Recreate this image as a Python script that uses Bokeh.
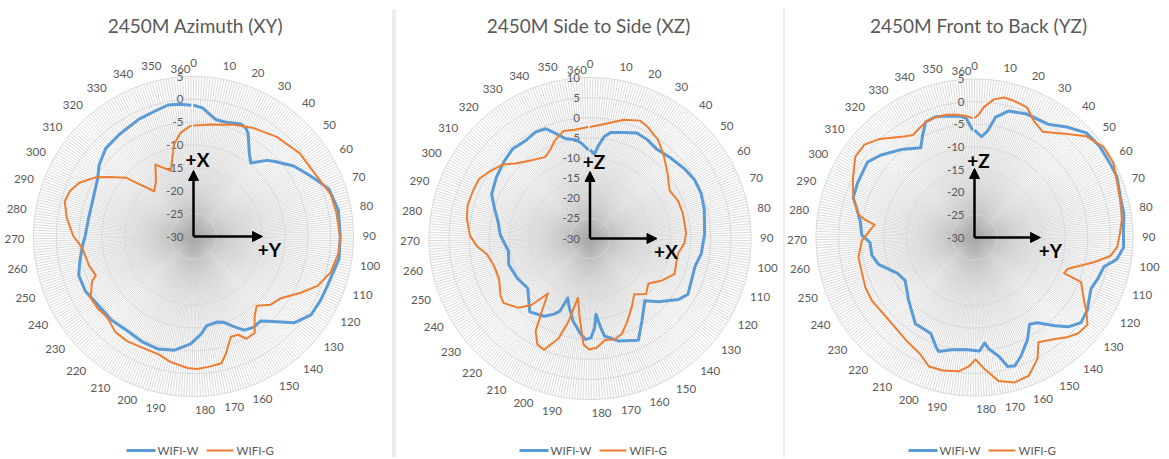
import numpy as np
from bokeh.plotting import figure
from bokeh.models import Range1d, Arrow, NormalHead
from bokeh.core.properties import value
from bokeh.embed import file_html
from bokeh.resources import INLINE

W, H = 1169, 459
FONT = "Lato"
GREY_TXT = "#595959"
BLUE = "#5B9BD5"
ORANGE = "#ED7D31"

# ---------------- measured patterns: angle (deg) / gain (dB) ----------------
# 2450M Azimuth (XY)
xy_w_deg = [0, 4, 11, 16, 23, 26, 28, 34, 38, 44, 47, 55, 61, 67, 71, 80, 90, 99, 111, 117,
            124, 131, 139, 142, 147, 152, 156, 161, 165, 172, 176, 182, 190, 198, 207, 215,
            225, 235, 244, 252, 258, 265, 271, 280, 292, 302, 308, 316, 325, 336, 344, 350, 355]
xy_w_db = [-1.3, -1.8, -4.0, -4.0, -3.3, -3.7, -4.5, -8.1, -9.6, -6.9, -5.9, -3.2, -1.7, 0.1,
           1.4, 2.2, 2.1, 2.2, 1.2, 1.1, 0.9, -1.0, -5.3, -6.4, -6.2, -6.7, -8.3, -10.1, -10.6,
           -10.3, -8.6, -6.5, -4.8, -4.2, -4.4, -4.8, -4.4, -4.3, -3.5, -3.5, -4.5, -5.5, -6.3,
           -6.7, -6.5, -5.5, -4.1, -2.8, -2.4, -1.7, -1.3, -0.7, -0.9]
xy_g_deg = [0, 10, 20, 29, 40, 52, 64, 73, 81, 91, 97, 105, 112, 118, 126, 132, 138, 143, 148,
            153, 156, 160, 165, 168, 174, 179, 183, 191, 197, 206, 213, 220, 227, 234, 240,
            247, 249, 255, 265, 271, 279, 286, 291, 296, 302, 306, 312, 315, 320, 327, 333,
            337, 342, 346, 349, 354, 359]
xy_g_db = [-5.7, -5.1, -4.0, -2.9, -1.6, -0.5, 0.0, 1.4, 1.7, 2.1, 1.9, 1.0, -0.8, -3.5, -6.7,
           -7.5, -9.5, -8.0, -5.0, -4.8, -6.4, -6.6, -3.4, -1.6, -1.3, -1.0, -1.2, -2.1, -3.1,
           -3.2, -2.9, -3.0, -4.1, -3.8, -3.8, -5.8, -7.0, -6.3, -5.5, -3.7, -2.0, -0.8, -1.2,
           -2.4, -5.0, -7.4, -10.5, -13.6, -16.9, -15.3, -12.2, -13.5, -14.8, -12.1, -9.4,
           -7.1, -5.9]

# 2450M Side to Side (XZ)
xz_w_deg = [0, 3, 5, 8, 11, 18, 24, 30, 37, 45, 54, 61, 68, 76, 88, 98, 105, 113, 120, 125,
            133, 139, 148, 155, 165, 172, 174, 176, 177.5, 180, 183, 186, 192, 198, 201, 203,
            206, 211, 220, 226, 232, 242, 253, 262, 273, 281, 288, 295, 304, 313, 320, 327,
            334, 339, 343, 347, 353, 356]
xz_w_db = [-8.0, -9.0, -7.0, -4.4, -3.2, -2.3, -1.3, -1.6, -2.3, -1.7, -0.8, -0.2, -0.2,
           -0.7, -1.5, -2.1, -3.0, -2.7, -2.0, -3.3, -6.8, -9.4, -5.9, -2.0, -3.6, -5.5,
           -8.2, -11.1, -7.8, -5.3, -4.9, -6.1, -9.0, -12.5, -14.2, -10.5, -9.2, -7.6, -6.4,
           -8.6, -10.2, -9.4, -8.8, -9.5, -7.7, -6.8, -5.2, -3.2, -2.2, -1.3, -0.6, -0.9,
           -0.3, -0.6, -2.6, -4.4, -5.3, -6.3]
xz_g_deg = [0, 9, 16, 23, 27, 35, 42, 50, 59, 67, 75, 87, 93, 100, 107, 113, 121, 128, 135,
            142, 149, 156, 162, 167, 172, 177, 181, 184, 188, 192, 195, 198, 203, 207, 211,
            214, 218, 222, 227, 234, 238, 247, 255, 262, 267, 272, 280, 286, 293, 299, 304,
            311, 316, 323, 332, 337, 341, 347, 353]
xz_g_db = [-2.3, -1.0, 0.7, 1.8, 1.3, -0.3, -2.5, -4.8, -6.9, -6.2, -6.1, -6.1, -6.5, -7.8,
           -7.7, -7.2, -9.4, -11.7, -10.4, -12.3, -10.1, -7.5, -5.0, -4.2, -4.5, -2.8, -2.4,
           -3.6, -10.2, -15.0, -8.8, -4.0, -0.1, -0.6, -3.3, -8.2, -12.8, -7.9, -5.1, -3.2,
           -3.6, -5.3, -5.2, -4.1, -1.8, -0.2, 1.0, 1.5, 1.4, 1.3, 0.1, -1.5, -3.7, -5.5,
           -6.9, -5.8, -4.2, -2.5, -2.7]

# 2450M Front to Back (YZ)
yz_w_deg = [0, 4, 7, 10, 15, 23, 33, 40, 47, 54, 62, 67, 75, 81, 88, 94, 99, 103, 109, 114,
            123, 129, 134, 138, 144, 148, 153, 159, 163, 166, 169, 173, 175, 178, 185, 192,
            198, 200, 205, 215, 227, 239, 246, 255, 261, 268, 272, 279, 285, 289, 296, 306,
            312, 321, 330, 334, 338, 343, 349, 354, 357]
yz_w_db = [-6.3, -7.7, -6.3, -3.0, -1.1, -0.4, -0.2, 1.8, 3.8, 4.2, 4.1, 4.2, 3.4, 3.4, 2.9,
           3.0, 1.8, -0.7, -1.3, -1.9, -0.4, 0.1, -1.4, -3.6, -6.6, -7.3, -4.6, -1.9, -0.3,
           -0.6, -3.3, -5.1, -6.6, -4.9, -5.2, -4.7, -3.6, -4.4, -6.7, -6.9, -9.9, -12.0,
           -11.2, -8.0, -7.0, -6.9, -5.1, -4.5, -3.1, -1.8, -1.5, -1.1, -2.4, -4.7, -6.9,
           -4.7, -2.3, -2.0, -2.6, -3.0, -3.6]
yz_g_deg = [0, 2, 4, 8, 12, 16, 22, 27, 33, 42, 48, 55, 62, 68, 76, 83, 88, 94, 98, 102, 105,
            109, 112, 113, 120, 124, 128, 133, 137, 142, 149, 153, 159, 165, 171, 176, 180,
            183, 187, 194, 200, 206, 214, 226, 239, 246, 252, 261, 269, 276, 278, 280, 282,
            289, 297, 305, 311, 317, 326, 330, 334, 338, 342, 348, 352, 357]
yz_g_db = [-3.6, -2.8, -1.2, 0.8, 1.6, 1.4, 1.0, -1.1, -2.2, 0.7, 3.3, 4.8, 4.8, 3.9, 3.2,
           2.8, 2.2, 1.6, 0.3, -3.1, -5.7, -8.3, -8.7, -4.5, -2.2, -0.3, 1.5, 1.2, 0.2, -1.4,
           -2.9, 0.2, 2.8, 3.2, 2.1, -0.8, -3.1, -1.5, -0.3, 0.2, 0.2, -1.7, -2.7, -3.7, -3.4,
           -3.5, -3.9, -4.0, -5.1, -7.2, -7.8, -5.5, -3.9, -1.8, -0.1, 1.8, 1.8, 0.2, -2.8,
           -3.6, -3.0, -2.3, -2.1, -2.2, -2.5, -3.1]

series_names = ["WIFI-W", "WIFI-G"]
cat_ticks = list(range(0, 361, 10))          # every 10th category is labelled
n_cat = 361                                  # categories 0..360

# ---------------- layout of the three panels (pixels) ----------------
panels = [
    dict(title="2450M Azimuth (XY)", cx=193.0, cy=236.0, rpx=160.0, vmin=-30, vmax=5,
         w=(xy_w_deg, xy_w_db), g=(xy_g_deg, xy_g_db), up="+X", right="+Y",
         up_len=66, right_len=69, title_x=195, legend_x=198),
    dict(title="2450M Side to Side (XZ)", cx=589.5, cy=238.0, rpx=161.0, vmin=-30, vmax=10,
         w=(xz_w_deg, xz_w_db), g=(xz_g_deg, xz_g_db), up="+Z", right="+X",
         up_len=67, right_len=67, title_x=588, legend_x=591),
    dict(title="2450M Front to Back (YZ)", cx=974.0, cy=237.0, rpx=158.5, vmin=-30, vmax=5,
         w=(yz_w_deg, yz_w_db), g=(yz_g_deg, yz_g_db), up="+Z", right="+Y",
         up_len=69, right_len=66, title_x=978, legend_x=980),
]

p = figure(width=W, height=H, x_range=Range1d(0, W), y_range=Range1d(0, H),
           output_backend="svg", toolbar_location=None, min_border=0)
p.axis.visible = False
p.grid.visible = False
p.outline_line_color = None
p.background_fill_color = "white"
p.border_fill_color = "white"

# panel separators
for sx in (392.5, 394.5, 783.5):
    p.segment(x0=sx, y0=H - 9, x1=sx, y1=H - 457, line_color="#d9d9d9", line_width=1)

for i, c in enumerate(panels):
    s = c["rpx"] / (c["vmax"] - c["vmin"])          # pixels per dB
    xr, yr = f"px{i}", f"py{i}"
    p.extra_x_ranges[xr] = Range1d(-c["cx"] / s, (W - c["cx"]) / s)
    p.extra_y_ranges[yr] = Range1d(-(H - c["cy"]) / s, c["cy"] / s)
    kw = dict(x_range_name=xr, y_range_name=yr)
    vmin, vmax = c["vmin"], c["vmax"]
    R = vmax - vmin

    def polar(deg, db):
        th = np.radians(np.asarray(deg, dtype=float) * 360.0 / n_cat)
        r = np.asarray(db, dtype=float) - vmin
        return r * np.sin(th), r * np.cos(th)

    # spokes, one per category
    k = np.arange(n_cat)
    sx_, sy_ = polar(k, np.full(n_cat, vmax))
    p.segment(x0=0, y0=0, x1=sx_, y1=sy_, line_color="#b0b0b0", line_alpha=0.45,
              line_width=1, **kw)

    # value rings
    ring_vals = list(range(vmin + 5, vmax + 1, 5))
    ring_xs, ring_ys = [], []
    kk = np.append(k, 0)
    for v in ring_vals:
        rx, ry = polar(kk, np.full(len(kk), v))
        ring_xs.append(rx)
        ring_ys.append(ry)
    p.multi_line(xs=ring_xs, ys=ring_ys, line_color="#d9d9d9", line_width=1, **kw)

    # value labels along the 0 spoke
    ticks = list(range(vmin, vmax + 1, 5))
    p.text(x=[-10 / s] * len(ticks), y=[t - vmin for t in ticks], text=[str(t) for t in ticks],
           text_align="right", text_baseline="middle", text_font=value(FONT),
           text_font_size="11.5px", text_color=GREY_TXT, **kw)

    # category labels
    gap = 9 / s
    for t in cat_ticks:
        th = np.radians(t * 360.0 / n_cat)
        sn, cs = np.sin(th), np.cos(th)
        if t == 360:
            # the last category shares the top with 0; its label sits lower-left
            ax, ay, align = -13 / s, R + 8 / s, "center"
        else:
            ax = (R + gap) * sn
            ay = (R + gap) * cs + cs * 4.5 / s
            align = "center" if abs(sn) < 1e-9 else ("left" if sn > 0 else "right")
        p.text(x=[ax], y=[ay], text=[str(t)], text_align=align, text_baseline="middle",
               text_font=value(FONT), text_font_size="11.5px", text_color=GREY_TXT, **kw)

    # series
    for (deg, db), col, lw in ((c["w"], BLUE, 3), (c["g"], ORANGE, 2)):
        d = list(deg) + [deg[0] + 360]
        g = list(db) + [db[0]]
        lx, ly = polar(d, g)
        p.line(lx, ly, line_color=col, line_width=lw, line_join="round", **kw)

    # axis arrows
    head = dict(size=10, fill_color="black", line_color="black")
    p.add_layout(Arrow(x_start=0, y_start=0, x_end=0, y_end=c["up_len"] / s,
                       end=NormalHead(**head), line_width=2.5, line_color="black", **kw))
    p.add_layout(Arrow(x_start=0, y_start=0, x_end=c["right_len"] / s, y_end=0,
                       end=NormalHead(**head), line_width=2.5, line_color="black", **kw))
    p.text(x=[4 / s, 76 / s], y=[77 / s, -12.5 / s], text=[c["up"], c["right"]],
           text_align="center", text_baseline="middle", text_font=value(FONT),
           text_font_style="bold", text_font_size="19px", text_color="black", **kw)

    # title
    p.text(x=[c["title_x"]], y=[H - 25], text=[c["title"]], text_align="center",
           text_baseline="middle", text_font=value(FONT), text_font_size="19px",
           text_color=GREY_TXT)

    # legend
    lx0 = c["legend_x"]
    ly0 = H - 450
    p.segment(x0=[lx0 - 72, lx0 + 8], y0=[ly0, ly0], x1=[lx0 - 43, lx0 + 35], y1=[ly0, ly0],
              line_color=[BLUE, ORANGE], line_width=[3, 2])
    p.text(x=[lx0 - 41, lx0 + 38], y=[ly0, ly0], text=series_names, text_align="left",
           text_baseline="middle", text_font=value(FONT), text_font_size="11.5px",
           text_color=GREY_TXT)

open("out.html", "w").write(file_html(p, INLINE))
